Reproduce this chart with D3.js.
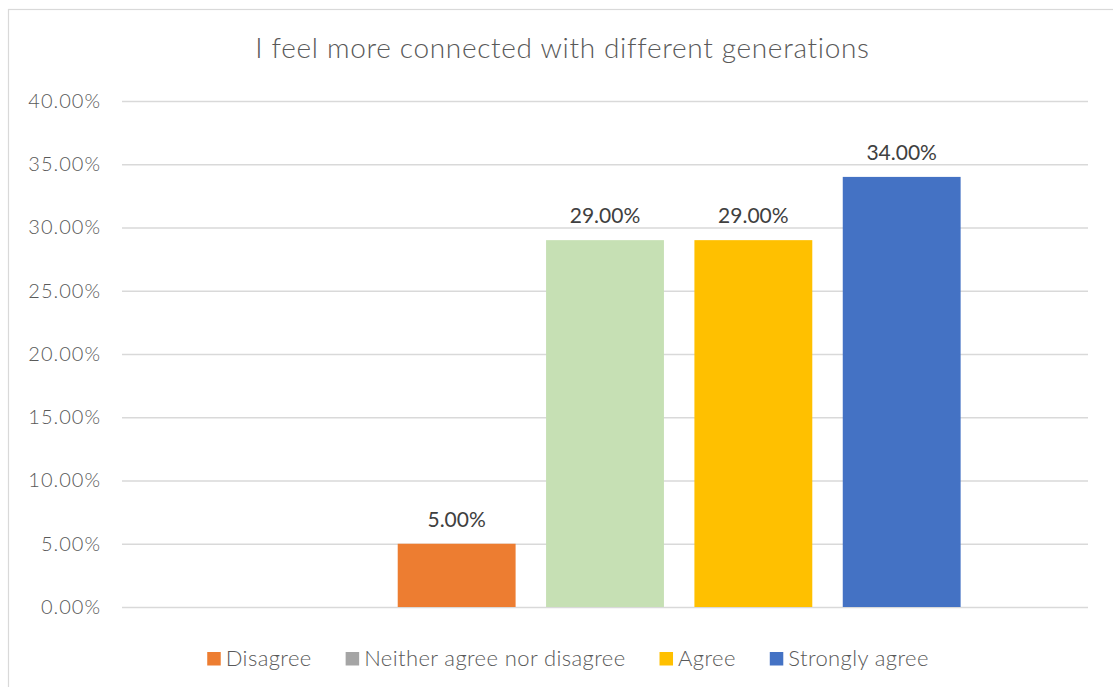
<!DOCTYPE html>
<html>
<head>
<meta charset="utf-8">
<script src="https://cdn.jsdelivr.net/npm/d3@7/dist/d3.min.js"></script>
<style>
  html, body { margin: 0; padding: 0; background: #ffffff; }
  svg { display: block; }
  text { font-family: Lato, "Open Sans", sans-serif; }
</style>
</head>
<body>
<svg id="chart" width="1113" height="687"></svg>
<script>
const title = "I feel more connected with different generations";
const categories = ["Strongly disagree", "Disagree", "Neither agree nor disagree", "Agree", "Strongly agree"];
const values = [null, 5, 29, 29, 34];
const barColors = ["#5b9bd5", "#ed7d31", "#c6e0b4", "#ffc000", "#4472c4"];
const legendNames = ["Disagree", "Neither agree nor disagree", "Agree", "Strongly agree"];
const legendColors = ["#ed7d31", "#a5a5a5", "#ffc000", "#4472c4"];
const yTicks = [0, 5, 10, 15, 20, 25, 30, 35, 40];

const svg = d3.select("#chart");
const W = 1113, H = 687;
const plot = { left: 122, right: 1088, top: 101, bottom: 607 };

// chart frame
svg.append("rect").attr("x", 8.5).attr("y", 9.5).attr("width", W + 20).attr("height", H + 20)
  .attr("fill", "#fff").attr("stroke", "#d9d9d9").attr("stroke-width", 1.2);

// title
svg.append("text").attr("x", 562.5).attr("y", 57.5).attr("text-anchor", "middle")
  .attr("font-size", 28).attr("font-weight", 300).attr("letter-spacing", 0.68)
  .attr("fill", "#595959").text(title);

const y = d3.scaleLinear().domain([0, 40]).range([plot.bottom, plot.top]);
const x = d3.scaleBand().domain(categories).range([plot.left, plot.right])
  .paddingInner(0.2054).paddingOuter(0.8586);

// gridlines + tick labels
const yAxis = d3.axisLeft(y).tickValues(yTicks).tickSize(-(plot.right - plot.left)).tickPadding(21)
  .tickFormat(d => d3.format(".2f")(d) + "%");
const gy = svg.append("g").attr("transform", `translate(${plot.left},0)`).call(yAxis);
gy.select(".domain").remove();
gy.selectAll(".tick line").attr("stroke", "#d9d9d9").attr("stroke-width", 1.5);
gy.selectAll(".tick text").attr("font-size", 20).attr("font-weight", 300).attr("fill", "#595959")
  .attr("letter-spacing", 1).attr("font-family", "Lato, sans-serif");

// bars
const data = categories.map((c, i) => ({ c, v: values[i], color: barColors[i] })).filter(d => d.v != null);
svg.append("g").selectAll("rect").data(data).join("rect")
  .attr("x", d => x(d.c)).attr("width", x.bandwidth())
  .attr("y", d => y(d.v)).attr("height", d => y(0) - y(d.v))
  .attr("fill", d => d.color);

// data labels
svg.append("g").selectAll("text").data(data).join("text")
  .attr("x", d => x(d.c) + x.bandwidth() / 2).attr("y", d => y(d.v) - 17)
  .attr("text-anchor", "middle").attr("font-size", 21).attr("fill", "#404040")
  .text(d => d3.format(".2f")(d.v) + "%");

// legend
const lg = svg.append("g");
const items = lg.selectAll("g").data(legendNames).join("g");
items.append("rect").attr("width", 13.5).attr("height", 13.5).attr("y", -13.5)
  .attr("fill", (d, i) => legendColors[i]);
items.append("text").attr("x", 18.5).attr("y", 0.7).attr("font-size", 22).attr("font-weight", 300)
  .attr("letter-spacing", 0.4).attr("fill", "#595959").text(d => d);
let cx = 0;
const offsets = [];
items.each(function () {
  const tw = d3.select(this).select("text").node().getComputedTextLength();
  offsets.push(cx);
  cx += 18.5 + tw + 34;
});
const total = cx - 34;
const startX = 568 - total / 2;
items.attr("transform", (d, i) => `translate(${startX + offsets[i]},665.5)`);
</script>
</body>
</html>
